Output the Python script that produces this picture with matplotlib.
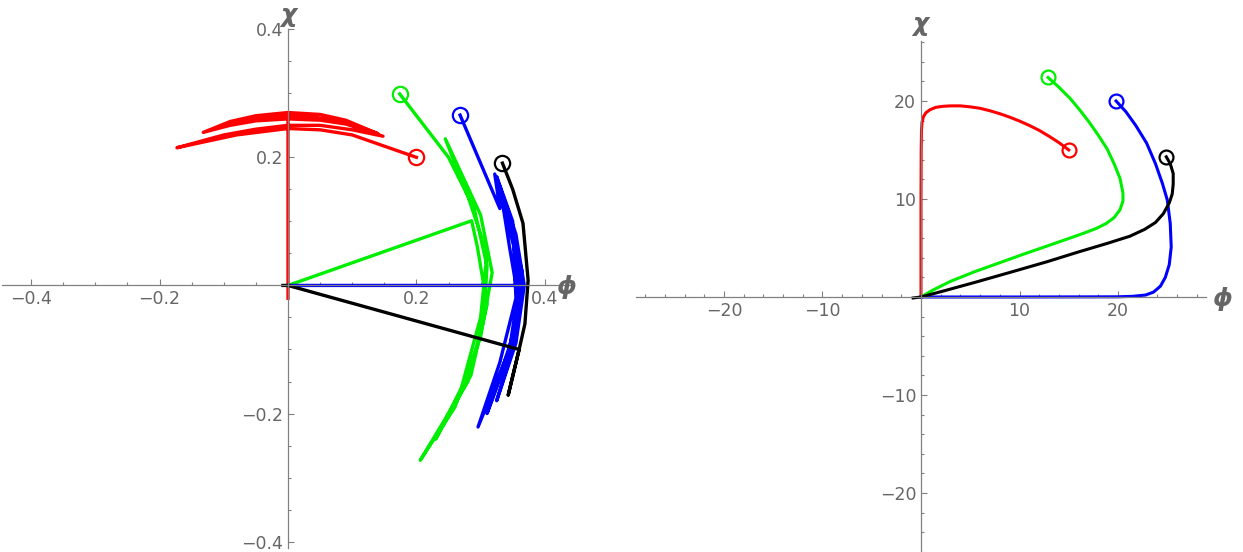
import matplotlib.pyplot as plt
from matplotlib.ticker import MultipleLocator, FixedLocator
import numpy as np

# left panel (small field values)
red_l_x = [0.2, 0.1, 0.05, 0.0, -0.08, -0.173, -0.1, -0.05, 0.0, 0.05, 0.1, 0.148,
           0.09, 0.05, 0.0, -0.05, -0.09, -0.132,
           -0.09, -0.05, 0.0, 0.05, 0.09, 0.14,
           0.09, 0.04, 0.0, -0.05, -0.1, -0.05, 0.0, 0.0, 0.0]
red_l_y = [0.2, 0.235, 0.243, 0.245, 0.235, 0.215, 0.235, 0.244, 0.25, 0.25, 0.243, 0.233,
           0.252, 0.258, 0.26, 0.257, 0.25, 0.239,
           0.256, 0.265, 0.27, 0.267, 0.258, 0.237,
           0.255, 0.263, 0.265, 0.262, 0.25, 0.26, 0.264, 0.0, -0.02]

green_l_x = [0.174, 0.25, 0.29, 0.31, 0.305, 0.28, 0.206, 0.26, 0.3, 0.318, 0.3, 0.245, 0.28, 0.31,
             0.3, 0.27, 0.23, 0.285, 0.31, 0.295, 0.286, 0.0]
green_l_y = [0.299, 0.2, 0.12, 0.03, -0.05, -0.15, -0.273, -0.19, -0.08, 0.02, 0.11, 0.229, 0.14, 0.05,
             -0.05, -0.16, -0.24, -0.14, -0.03, 0.06, 0.101, 0.0]

blue_l_x = [0.268, 0.33, 0.322, 0.352, 0.36, 0.345, 0.296, 0.33, 0.355, 0.35, 0.325, 0.345, 0.365,
            0.35, 0.31, 0.34, 0.36, 0.358, 0.335, 0.355, 0.368, 0.355, 0.325, 0.35, 0.365, 0.35, 0.33,
            0.345, 0.362, 0.36, 0.0]
blue_l_y = [0.266, 0.12, 0.174, 0.06, 0.0, -0.1, -0.221, -0.12, -0.02, 0.1, 0.17, 0.1, 0.02,
            -0.08, -0.2, -0.12, -0.03, 0.05, 0.14, 0.08, 0.0, -0.09, -0.18, -0.1, -0.01, 0.09, 0.155,
            0.06, -0.04, 0.0, 0.0]

black_l_x = [0.334, 0.35, 0.366, 0.374, 0.369, 0.36, 0.343, 0.36, 0.0, -0.008]
black_l_y = [0.191, 0.15, 0.097, 0.008, -0.06, -0.1, -0.171, -0.1, 0.0, 0.0]

# right panel (large field values)
red_r_x = [0.0, 0.0, 0.0, 0.02, 0.05, 0.1, 0.25, 0.5, 0.9, 1.5, 2.2, 3.0, 4.0, 5.0, 6.0, 7.0, 8.0,
           9.0, 10.0, 11.0, 12.0, 13.0, 14.0, 15.0]
red_r_y = [0.0, 5.0, 10.0, 15.0, 17.0, 17.8, 18.4, 18.8, 19.1, 19.35, 19.45, 19.5, 19.5, 19.4, 19.25,
           19.0, 18.7, 18.35, 17.95, 17.5, 17.0, 16.4, 15.75, 15.0]

green_r_x = [12.9, 14.0, 15.1, 16.1, 17.1, 18.0, 18.9, 19.6, 20.2, 20.5, 20.5, 20.2, 19.6, 18.8, 17.8,
             16.5, 14.8, 12.8, 10.5, 8.0, 5.5, 3.0, 1.2, 0.0]
green_r_y = [22.4, 21.4, 20.3, 19.1, 17.8, 16.5, 15.1, 13.6, 12.1, 10.6, 9.8, 8.9, 8.1, 7.5, 7.0,
             6.5, 5.9, 5.2, 4.4, 3.5, 2.6, 1.6, 0.7, 0.0]

blue_r_x = [19.8, 20.8, 21.8, 22.9, 23.8, 24.5, 25.0, 25.3, 25.4, 25.2, 24.8, 24.3, 23.6, 22.8, 21.5,
            20.0, 10.0, 0.0]
blue_r_y = [20.0, 18.9, 17.5, 15.7, 13.6, 11.6, 9.9, 7.5, 5.1, 3.3, 2.0, 1.1, 0.5, 0.2, 0.07,
            0.02, 0.0, 0.0]

black_r_x = [24.9, 25.3, 25.6, 25.6, 25.5, 25.2, 24.6, 23.8, 22.7, 21.2, 19.0, 16.0, 12.8, 9.0, 5.5,
             2.6, 0.0, -0.8]
black_r_y = [14.3, 13.6, 12.6, 11.5, 10.5, 9.6, 8.5, 7.6, 6.9, 6.2, 5.5, 4.6, 3.6, 2.5, 1.5,
             0.7, 0.0, -0.1]

grey = '#808080'
label_grey = '#666666'
green = '#00ee00'


def style_axes(ax, major, minor):
    for s in ['top', 'right']:
        ax.spines[s].set_visible(False)
    for s in ['left', 'bottom']:
        ax.spines[s].set_position(('data', 0))
        ax.spines[s].set_color(grey)
        ax.spines[s].set_linewidth(0.9)
    ax.xaxis.set_major_locator(FixedLocator(major))
    ax.yaxis.set_major_locator(FixedLocator(major))
    ax.xaxis.set_minor_locator(MultipleLocator(minor))
    ax.yaxis.set_minor_locator(MultipleLocator(minor))
    ax.tick_params(which='both', direction='in', color=grey, width=0.8,
                   labelsize=12.5, labelcolor=label_grey)
    ax.tick_params(which='major', length=4)
    ax.tick_params(which='minor', length=2.5)
    ax.patch.set_alpha(0)


fig = plt.figure(figsize=(12.43, 5.52), dpi=100)

ax1 = fig.add_axes([0.00185, 0.0072, 0.4597, 0.9398])
ax1.set_xlim(-0.445, 0.445)
ax1.set_ylim(-0.41, 0.4)
style_axes(ax1, [-0.4, -0.2, 0.2, 0.4], 0.05)
ax1.set_xticklabels(['\u22120.4', '\u22120.2', '0.2', '0.4'])
ax1.set_yticklabels(['\u22120.4', '\u22120.2', '0.2', '0.4'])

lw1 = 2.4
ax1.plot(red_l_x, red_l_y, color='red', lw=lw1)
ax1.plot(green_l_x, green_l_y, color=green, lw=lw1)
ax1.plot(blue_l_x, blue_l_y, color='blue', lw=lw1)
ax1.plot(black_l_x, black_l_y, color='black', lw=lw1)
for xs, ys, c in [(red_l_x, red_l_y, 'red'), (green_l_x, green_l_y, green),
                  (blue_l_x, blue_l_y, 'blue'), (black_l_x, black_l_y, 'black')]:
    ax1.plot(xs[0], ys[0], 'o', mfc='none', mec=c, ms=11, mew=1.6)

ax2 = fig.add_axes([0.5119, 0.0003, 0.4581, 0.9251])
ax2.set_xlim(-28.9, 28.9)
ax2.set_ylim(-26.0, 26.1)
style_axes(ax2, [-20, -10, 10, 20], 2)
ax2.set_xticklabels(['\u221220', '\u221210', '10', '20'])
ax2.set_yticklabels(['\u221220', '\u221210', '10', '20'])

lw2 = 2.2
ax2.plot(red_r_x, red_r_y, color='red', lw=lw2)
ax2.plot(green_r_x, green_r_y, color=green, lw=lw2)
ax2.plot(blue_r_x, blue_r_y, color='blue', lw=lw2)
ax2.plot(black_r_x, black_r_y, color='black', lw=lw2)
ax2.plot(red_r_x[-1], red_r_y[-1], 'o', mfc='none', mec='red', ms=10, mew=1.6)
for xs, ys, c in [(green_r_x, green_r_y, green), (blue_r_x, blue_r_y, 'blue'),
                  (black_r_x, black_r_y, 'black')]:
    ax2.plot(xs[0], ys[0], 'o', mfc='none', mec=c, ms=10, mew=1.6)

# axis labels
lab = dict(color=label_grey, fontsize=18, fontweight='bold', fontstyle='italic')
fig.text(288 / 1243, 1 - 15 / 552, '\u03c7', ha='center', va='center', **lab)
fig.text(566 / 1243, 1 - 287 / 552, '\u03d5', ha='center', va='center', **lab)
fig.text(920 / 1243, 1 - 24 / 552, '\u03c7', ha='center', va='center', **lab)
fig.text(1222 / 1243, 1 - 299 / 552, '\u03d5', ha='center', va='center', **lab)

fig.savefig('out.png', dpi=100)
